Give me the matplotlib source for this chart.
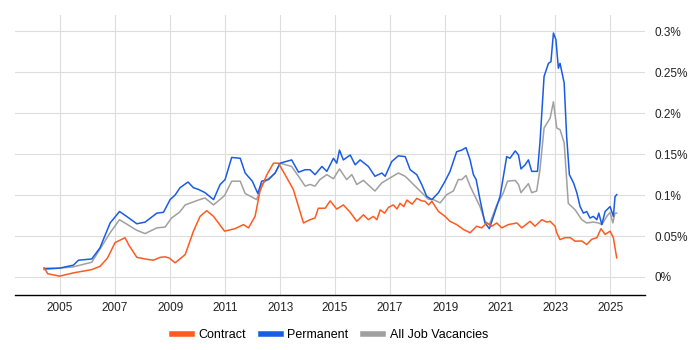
import matplotlib
matplotlib.use("Agg")
import matplotlib.pyplot as plt
from matplotlib.lines import Line2D
from matplotlib.ticker import FuncFormatter, MultipleLocator

plt.rcParams['font.family'] = ['Liberation Sans', 'DejaVu Sans']

# values, in percent of all job ads
contract_dates = [2004.42, 2004.55, 2004.98, 2005.48, 2006.15, 2006.45, 2006.72, 2007.0,
                  2007.36, 2007.5, 2007.79, 2008.09, 2008.39, 2008.64, 2008.82, 2008.98,
                  2009.18, 2009.55, 2009.85, 2010.09, 2010.33, 2010.58, 2010.98, 2011.36,
                  2011.67, 2011.85, 2012.09, 2012.27, 2012.52, 2012.76, 2012.94, 2013.18,
                  2013.48, 2013.85, 2014.09, 2014.27, 2014.39, 2014.64, 2014.82, 2015.06,
                  2015.3, 2015.55, 2015.79, 2016.03, 2016.21, 2016.39, 2016.52, 2016.64,
                  2016.8, 2016.94, 2017.12, 2017.25, 2017.36, 2017.5, 2017.61, 2017.8,
                  2017.97, 2018.15, 2018.27, 2018.4, 2018.52, 2018.76, 2019.0, 2019.18,
                  2019.42, 2019.67, 2019.91, 2020.15, 2020.33, 2020.52, 2020.7, 2020.88,
                  2021.06, 2021.3, 2021.61, 2021.79, 2022.09, 2022.27, 2022.52, 2022.7,
                  2022.82, 2023.0, 2023.06, 2023.18, 2023.36, 2023.55, 2023.73, 2023.97,
                  2024.15, 2024.33, 2024.52, 2024.67, 2024.82, 2025.0, 2025.12, 2025.24]
contract = [0.0112, 0.004, 0.001, 0.005, 0.009, 0.013, 0.023, 0.042,
            0.048, 0.039, 0.024, 0.022, 0.0205, 0.024, 0.0246, 0.023,
            0.0173, 0.0274, 0.056, 0.074, 0.081, 0.074, 0.056, 0.059,
            0.064, 0.060, 0.074, 0.105, 0.125, 0.139, 0.139, 0.125,
            0.107, 0.066, 0.070, 0.072, 0.084, 0.084, 0.093, 0.083,
            0.088, 0.079, 0.068, 0.076, 0.070, 0.074, 0.070, 0.082,
            0.078, 0.085, 0.088, 0.083, 0.090, 0.086, 0.094, 0.089,
            0.096, 0.093, 0.0925, 0.088, 0.0925, 0.080, 0.074, 0.068,
            0.064, 0.058, 0.054, 0.062, 0.060, 0.066, 0.062, 0.066,
            0.060, 0.064, 0.066, 0.060, 0.068, 0.062, 0.070, 0.067,
            0.068, 0.062, 0.054, 0.0457, 0.048, 0.048, 0.0437, 0.044,
            0.0396, 0.046, 0.048, 0.059, 0.052, 0.056, 0.048, 0.0234]

permanent_dates = [2004.42, 2004.98, 2005.48, 2005.67, 2006.15, 2006.45, 2006.82, 2007.16,
                   2007.42, 2007.79, 2008.09, 2008.52, 2008.76, 2009.0, 2009.18, 2009.36,
                   2009.65, 2009.85, 2010.03, 2010.27, 2010.58, 2010.82, 2011.0, 2011.24,
                   2011.55, 2011.73, 2011.99, 2012.19, 2012.33, 2012.58, 2012.82, 2013.0,
                   2013.42, 2013.67, 2013.91, 2014.09, 2014.27, 2014.52, 2014.7, 2014.94,
                   2015.06, 2015.16, 2015.3, 2015.55, 2015.73, 2015.91, 2016.21, 2016.45,
                   2016.7, 2016.82, 2017.06, 2017.3, 2017.55, 2017.73, 2017.97, 2018.15,
                   2018.33, 2018.52, 2018.76, 2019.0, 2019.18, 2019.42, 2019.61, 2019.76,
                   2019.91, 2020.03, 2020.13, 2020.27, 2020.45, 2020.61, 2020.76, 2021.0,
                   2021.24, 2021.36, 2021.55, 2021.67, 2021.76, 2021.91, 2022.03, 2022.15,
                   2022.36, 2022.45, 2022.6, 2022.76, 2022.85, 2022.94, 2023.03, 2023.12,
                   2023.18, 2023.33, 2023.42, 2023.52, 2023.67, 2023.79, 2023.91, 2024.03,
                   2024.15, 2024.27, 2024.39, 2024.52, 2024.59, 2024.7, 2024.82, 2025.0,
                   2025.12, 2025.18, 2025.24]
permanent = [0.0104, 0.0108, 0.0144, 0.0205, 0.022, 0.0356, 0.066, 0.080,
             0.074, 0.065, 0.067, 0.078, 0.079, 0.0945, 0.100, 0.109,
             0.116, 0.109, 0.107, 0.103, 0.0945, 0.113, 0.119, 0.146,
             0.145, 0.127, 0.117, 0.102, 0.117, 0.119, 0.127, 0.139,
             0.143, 0.128, 0.131, 0.131, 0.125, 0.135, 0.129, 0.145,
             0.139, 0.155, 0.143, 0.149, 0.137, 0.143, 0.135, 0.123,
             0.127, 0.123, 0.141, 0.148, 0.147, 0.131, 0.125, 0.113,
             0.0985, 0.0945, 0.103, 0.117, 0.129, 0.153, 0.155, 0.158,
             0.143, 0.125, 0.119, 0.0945, 0.066, 0.059, 0.074, 0.0985,
             0.147, 0.145, 0.154, 0.149, 0.132, 0.137, 0.143, 0.129,
             0.129, 0.164, 0.245, 0.261, 0.263, 0.298, 0.290, 0.255,
             0.261, 0.237, 0.172, 0.125, 0.115, 0.103, 0.086, 0.078,
             0.080, 0.072, 0.074, 0.070, 0.078, 0.064, 0.080, 0.086,
             0.074, 0.098, 0.1006]

all_dates = [2004.42, 2005.48, 2006.15, 2006.82, 2007.16, 2007.79, 2008.09, 2008.52,
             2008.82, 2009.05, 2009.34, 2009.55, 2010.03, 2010.27, 2010.58, 2010.98,
             2011.24, 2011.55, 2011.73, 2012.15, 2012.33, 2012.82, 2013.0, 2013.42,
             2013.67, 2013.91, 2014.09, 2014.27, 2014.45, 2014.7, 2014.94, 2015.16,
             2015.42, 2015.61, 2015.79, 2016.03, 2016.45, 2016.7, 2017.0, 2017.3,
             2017.55, 2017.79, 2018.09, 2018.39, 2018.58, 2018.82, 2019.06, 2019.3,
             2019.48, 2019.61, 2019.76, 2019.91, 2020.09, 2020.27, 2020.45, 2020.61,
             2020.88, 2021.12, 2021.27, 2021.55, 2021.67, 2021.76, 2022.03, 2022.15,
             2022.33, 2022.45, 2022.6, 2022.82, 2022.94, 2023.06, 2023.18, 2023.33,
             2023.48, 2023.73, 2023.97, 2024.15, 2024.39, 2024.58, 2024.7, 2024.88,
             2025.0, 2025.1, 2025.18, 2025.24]
all_jobs = [0.009, 0.0124, 0.018, 0.054, 0.070, 0.057, 0.053, 0.060,
            0.061, 0.072, 0.079, 0.088, 0.094, 0.0965, 0.088, 0.0994,
            0.117, 0.117, 0.102, 0.0945, 0.113, 0.127, 0.139, 0.135,
            0.123, 0.111, 0.113, 0.111, 0.119, 0.125, 0.120, 0.132,
            0.119, 0.125, 0.113, 0.118, 0.105, 0.115, 0.121, 0.127,
            0.123, 0.115, 0.105, 0.095, 0.0945, 0.0905, 0.1006, 0.105,
            0.119, 0.119, 0.124, 0.111, 0.0985, 0.086, 0.068, 0.064,
            0.088, 0.103, 0.117, 0.118, 0.113, 0.103, 0.114, 0.103,
            0.105, 0.131, 0.182, 0.194, 0.214, 0.182, 0.180, 0.164,
            0.090, 0.082, 0.070, 0.066, 0.067, 0.066, 0.064, 0.074,
            0.079, 0.066, 0.078, 0.078]

year_ticks = list(range(2005, 2026, 2))
pct_ticks = [0, 0.05, 0.1, 0.15, 0.2, 0.25, 0.3]

c_contract = '#ff5a1f'
c_perm = '#1a5ce6'
c_all = '#a0a0a0'

fig = plt.figure(figsize=(7, 3.5), dpi=100)
ax = fig.add_axes([15 / 700, 1 - 295 / 350, 630 / 700, 280 / 350])

ax.plot(all_dates, all_jobs, color=c_all, lw=1.1)
ax.plot(permanent_dates, permanent, color=c_perm, lw=1.1)
ax.plot(contract_dates, contract, color=c_contract, lw=1.1)

ax.set_xlim(2003.36, 2026.27)
ax.set_ylim(-0.022, 0.32)
ax.set_xticks(year_ticks)
ax.set_yticks(pct_ticks)
ax.yaxis.tick_right()
ax.yaxis.set_major_formatter(FuncFormatter(lambda v, p: '%g%%' % round(v, 2)))

ax.grid(which='major', color='#dddddd', linewidth=0.8)
ax.set_axisbelow(True)
for s in ['top', 'left', 'right']:
    ax.spines[s].set_visible(False)
ax.spines['bottom'].set_color('#000000')
ax.spines['bottom'].set_linewidth(1.0)
ax.tick_params(axis='both', length=0, labelsize=8.5, colors='#222222')
ax.tick_params(axis='y', pad=7)
ax.tick_params(axis='x', pad=5)

handles = [Line2D([0], [0], color=c_contract, lw=4),
           Line2D([0], [0], color=c_perm, lw=4),
           Line2D([0], [0], color=c_all, lw=4)]
fig.legend(handles, ['Contract', 'Permanent', 'All Job Vacancies'],
           loc='center', bbox_to_anchor=(330 / 700, 1 - 335 / 350), ncol=3,
           frameon=False, fontsize=9, handlelength=1.6, handletextpad=0.5,
           columnspacing=1.2)

fig.savefig('out.png', dpi=100)
